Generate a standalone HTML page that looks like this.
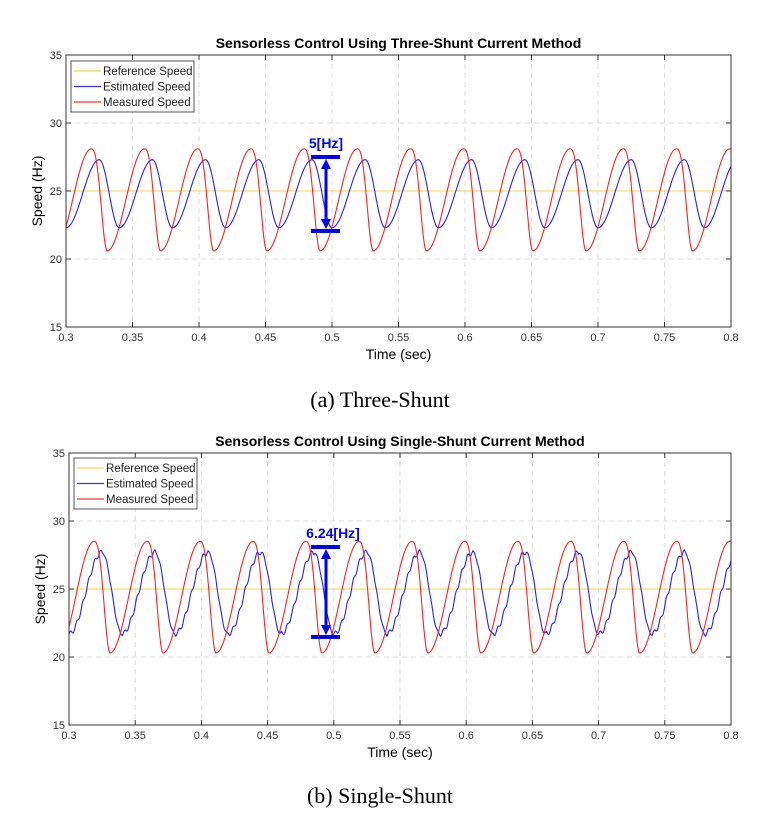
<!DOCTYPE html>
<html><head><meta charset="utf-8"><style>
body{margin:0;background:#fff;width:765px;height:825px;overflow:hidden}
svg{position:absolute;left:0;top:0}
</style></head><body>
<svg id="s" width="765" height="825" xmlns="http://www.w3.org/2000/svg" font-family="Liberation Sans, Arial, sans-serif"></svg>
<script>
const S=document.getElementById('s');let h='';
function chart(oy,L,R,title,redMax,redMin,bMax,bMin,noise,ann,annTop,annBot,legY){
 const T=oy+55,B=oy+327;
 const X=t=>L+(t-0.3)/0.5*(R-L), Y=v=>B-(v-15)/20*(B-T);
 h+=`<rect x="${L}" y="${T}" width="${R-L}" height="${B-T}" fill="#fff"/>`;
 for(let i=1;i<10;i++){const x=X(0.3+i*0.05);h+=`<line x1="${x}" y1="${T}" x2="${x}" y2="${B}" stroke="#ddd" stroke-dasharray="5,4"/>`;}
 for(const v of [20,25,30]){h+=`<line x1="${L}" y1="${Y(v)}" x2="${R}" y2="${Y(v)}" stroke="#ddd" stroke-dasharray="5,4"/>`;}
 h+=`<line x1="${L}" y1="${Y(25)}" x2="${R}" y2="${Y(25)}" stroke="#f5d44a" stroke-width="1"/>`;
 const P=0.04,t0=0.331;
 function red(t){let p=((t-t0)%P+P)%P/P;
  if(p<0.7){return redMin+(redMax-redMin)*(1-Math.cos(Math.PI*p/0.7))/2;}
  let q=(p-0.7)/0.3;return redMax-(redMax-redMin)*(1-Math.cos(Math.PI*Math.pow(q,1.3)))/2;}
 function blue(t){let p=((t-0.340)%P+P)%P/P;let v;
  if(p<0.625){v=bMin+(bMax-bMin)*(1-Math.cos(Math.PI*p/0.625))/2;}
  else{let q=(p-0.625)/0.375;v=bMax-(bMax-bMin)*(1-Math.cos(Math.PI*q))/2;}
  if(noise)v+=0.18*Math.sin(t*2*Math.PI*220)*(p<0.625?1:0.5);
  return v;}
 let rp='',bp='';
 for(let i=0;i<=1500;i++){const t=0.3+0.5*i/1500;rp+=(i?'L':'M')+X(t).toFixed(1)+' '+Y(red(t)).toFixed(1);bp+=(i?'L':'M')+X(t).toFixed(1)+' '+Y(blue(t)).toFixed(1);}
 h+=`<path d="${bp}" fill="none" stroke="#2222ff" stroke-width="1.1"/>`;
 h+=`<path d="${rp}" fill="none" stroke="#ff2020" stroke-width="1.1"/>`;
 h+=`<rect x="${L}" y="${T}" width="${R-L}" height="${B-T}" fill="none" stroke="#333" stroke-width="1"/>`;
 for(let i=0;i<=10;i++){const t=0.3+i*0.05,x=X(t);h+=`<line x1="${x}" y1="${B}" x2="${x}" y2="${B-5}" stroke="#333"/><line x1="${x}" y1="${T}" x2="${x}" y2="${T+5}" stroke="#333"/><text x="${x}" y="${B+14}" font-size="11" fill="#333" text-anchor="middle">${+t.toFixed(2)}</text>`;}
 for(const v of [15,20,25,30,35]){h+=`<line x1="${L}" y1="${Y(v)}" x2="${L+5}" y2="${Y(v)}" stroke="#333"/><line x1="${R}" y1="${Y(v)}" x2="${R-5}" y2="${Y(v)}" stroke="#333"/><text x="${L-4}" y="${Y(v)+4}" font-size="11" fill="#333" text-anchor="end">${v}</text>`;}
 h+=`<text x="${(L+R)/2}" y="${oy+48}" font-size="14" font-weight="bold" text-anchor="middle">${title}</text>`;
 h+=`<text x="${(L+R)/2}" y="${B+32}" font-size="14" text-anchor="middle">Time (sec)</text>`;
 h+=`<text transform="translate(${L-24},${(T+B)/2}) rotate(-90)" font-size="14" text-anchor="middle">Speed (Hz)</text>`;
 const lx=L+5,ly=oy+legY;
 h+=`<rect x="${lx}" y="${ly}" width="123" height="51" fill="#fff" stroke="#555"/>`;
 [['#f5d44a','Reference Speed'],['#3333ff','Estimated Speed'],['#ff3030','Measured Speed']].forEach((e,i)=>{const yy=ly+10+i*15.5;h+=`<line x1="${lx+3}" y1="${yy}" x2="${lx+30}" y2="${yy}" stroke="${e[0]}" stroke-width="1.2"/><text x="${lx+32}" y="${yy+4}" font-size="11.5" fill="#222">${e[1]}</text>`;});
 const ax=326;
 h+=`<line x1="${ax-15}" y1="${annTop}" x2="${ax+14}" y2="${annTop}" stroke="#0000ff" stroke-width="4"/><line x1="${ax-15}" y1="${annBot}" x2="${ax+14}" y2="${annBot}" stroke="#0000ff" stroke-width="4"/>`;
 h+=`<line x1="${ax}" y1="${annTop+8}" x2="${ax}" y2="${annBot-8}" stroke="#0000ff" stroke-width="3"/>`;
 h+=`<polygon points="${ax-5},${annTop+12} ${ax+5},${annTop+12} ${ax},${annTop+2}" fill="#0000ff"/><polygon points="${ax-5},${annBot-12} ${ax+5},${annBot-12} ${ax},${annBot-2}" fill="#0000ff"/>`;
 h+=`<text x="${ax+(ann.length>5?7:0)}" y="${annTop-9}" font-size="14" font-weight="bold" fill="#0000ff" text-anchor="middle">${ann}</text>`;
}
chart(0,66,731,'Sensorless Control Using Three-Shunt Current Method',28.1,20.6,27.3,22.3,false,'5[Hz]',157,231,61);
chart(398,69,731,'Sensorless Control Using Single-Shunt Current Method',28.5,20.3,27.7,21.7,true,'6.24[Hz]',547,637,60);
h+=`<text x="380" y="407" font-family="Liberation Serif, serif" font-size="22" text-anchor="middle">(a)  Three-Shunt</text>`;
h+=`<text x="380" y="803" font-family="Liberation Serif, serif" font-size="22" text-anchor="middle">(b)  Single-Shunt</text>`;
S.innerHTML=h;
</script>
</body></html>
